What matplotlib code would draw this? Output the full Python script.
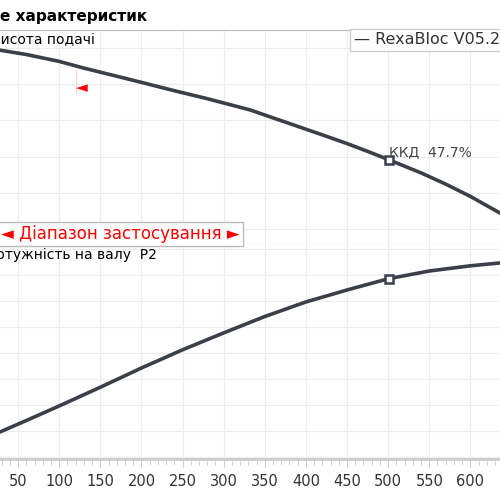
import matplotlib
matplotlib.use("Agg")
import matplotlib.pyplot as plt
from matplotlib.ticker import MultipleLocator

q_head = [28, 60, 100, 129, 170, 200, 240, 280, 332, 360, 392, 420, 450, 480, 501, 540, 570, 600, 636]
head = [5.94, 5.82, 5.63, 5.45, 5.22, 5.05, 4.82, 4.60, 4.29, 4.07, 3.82, 3.60, 3.36, 3.10, 2.91, 2.55, 2.24, 1.90, 1.44]
q_pow = [28, 60, 100, 150, 200, 250, 300, 350, 400, 450, 500, 550, 600, 636]
power = [0.96, 1.40, 1.96, 2.68, 3.42, 4.12, 4.77, 5.40, 5.96, 6.42, 6.85, 7.15, 7.35, 7.46]
bep_q = 501
bep_head = 2.91
bep_power = 6.85
eff_label = "ККД  47.7%"
x_ticks = [50, 100, 150, 200, 250, 300, 350, 400, 450, 500, 550, 600]

line_c = "#3a3f4a"
grid_c = "#ececec"
fig = plt.figure(figsize=(5, 5), dpi=100)
W = 500.0
def fy(px): return 1 - px / W

ax1 = fig.add_axes([0, fy(245), 1, (245 - 30) / W])
ax2 = fig.add_axes([0, fy(459), 1, (459 - 245) / W])
for ax in (ax1, ax2):
    ax.set_xlim(28, 636)
    ax.xaxis.set_major_locator(MultipleLocator(50))
    ax.grid(True, color=grid_c, lw=0.8)
    ax.set_axisbelow(True)
    for s in ("left", "right"):
        ax.spines[s].set_visible(False)
    ax.tick_params(left=False, labelleft=False)
ax1.set_ylim(0.558, 6.497)
ax1.yaxis.set_major_locator(MultipleLocator(1))
ax1.tick_params(bottom=False, labelbottom=False)
ax1.spines["top"].set_color("#bbbbbb")
ax1.spines["bottom"].set_color("#bbbbbb")
ax2.set_ylim(-0.08, 8.15)
ax2.yaxis.set_major_locator(MultipleLocator(1))
ax2.spines["top"].set_visible(False)
ax2.spines["bottom"].set_color("#cccccc")
ax2.spines["bottom"].set_linewidth(2)
ax2.set_xticks(x_ticks)
ax2.xaxis.set_minor_locator(MultipleLocator(10))
ax2.tick_params(axis="x", which="major", length=6, color="#cccccc", labelsize=10.5, labelcolor="#333333", pad=5)
ax2.tick_params(axis="x", which="minor", length=4, color="#cccccc")

ax1.plot(q_head, head, color=line_c, lw=2.6, solid_capstyle="round", solid_joinstyle="round")
ax1.plot([bep_q], [bep_head], marker="s", ms=6, mfc="white", mec=line_c, mew=1.8)
ax1.text(bep_q, bep_head + 0.1, eff_label, fontsize=10, color="#444444")
ax2.plot(q_pow, power, color=line_c, lw=2.6, solid_capstyle="round", solid_joinstyle="round")
ax2.plot([bep_q], [bep_power], marker="s", ms=6, mfc="white", mec=line_c, mew=1.8)

fig.text(0, 1 - 17 / W, "е характеристик", fontsize=11, fontweight="bold", va="center")
fig.text(-9 / W, 1 - 40 / W, "Висота подачі", fontsize=10, va="center")
fig.text(-14 / W, 1 - 255 / W, "Потужність на валу  P2", fontsize=10, va="center")
fig.add_artist(plt.Line2D([76 / W, 76 / W], [1 - 70 / W, 1 - 92 / W], color="#ffcccc", lw=0.8))
fig.text(76 / W, 1 - 88 / W, "◄", color="red", fontsize=11, va="center")
fig.text(354 / W, 1 - 40 / W, "— RexaBloc V05.22-1", fontsize=11.5, color="#333333", va="center",
         bbox=dict(boxstyle="square,pad=0.25", fc="white", ec="#cccccc"))
fig.text(1 / W, 1 - 234 / W, "◄ Діапазон застосування ►", color="red", fontsize=12, va="center",
         bbox=dict(boxstyle="square,pad=0.2", fc="white", ec="#bbbbbb"))
fig.add_artist(plt.Line2D([212 / W, 212 / W], [1 - 229 / W, 1 - 245 / W], color="red", lw=1.2))
fig.savefig("out.png", dpi=100)
